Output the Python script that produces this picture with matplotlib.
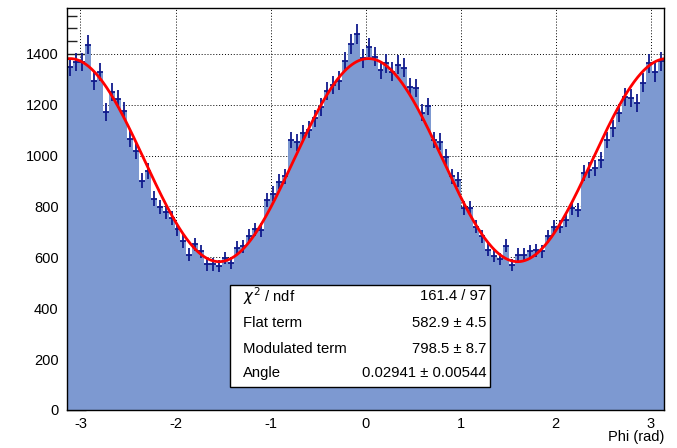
import numpy as np
import matplotlib
matplotlib.use("Agg")
import matplotlib.pyplot as plt
from matplotlib.patches import Rectangle
from matplotlib.ticker import MultipleLocator

plt.rcParams['font.family'] = ['Liberation Sans', 'DejaVu Sans']
plt.rcParams['axes.unicode_minus'] = False

# histogram: 100 bins over [-pi, pi], counts
n_bins = 100
counts = [1348, 1368, 1368, 1436, 1295, 1328, 1171, 1249, 1223, 1177,
          1065, 1019, 901, 940, 830, 797, 780, 756, 710, 664,
          611, 651, 624, 572, 572, 566, 598, 579, 638, 644,
          684, 710, 708, 825, 850, 898, 918, 1062, 1052, 1088,
          1101, 1147, 1190, 1252, 1278, 1295, 1370, 1439, 1479, 1383,
          1426, 1389, 1337, 1363, 1330, 1357, 1346, 1271, 1265, 1169,
          1193, 1062, 1055, 996, 918, 905, 794, 794, 721, 682,
          630, 606, 593, 646, 571, 610, 610, 623, 627, 623,
          682, 721, 721, 745, 794, 787, 931, 944, 951, 983,
          1062, 1108, 1167, 1232, 1226, 1206, 1287, 1363, 1327, 1370]

# fit results shown in the stats box
flat_term = 582.9
modulated_term = 798.5
angle = 0.02941
stat_labels = [r"$\chi^{2}$ / ndf", "Flat term", "Modulated term", "Angle"]
stat_values = ["161.4 / 97", "582.9 \u00b1 4.5", "798.5 \u00b1 8.7", "0.02941 \u00b1 0.00544"]

counts = np.array(counts, dtype=float)
edges = np.linspace(-np.pi, np.pi, n_bins + 1)
centers = 0.5 * (edges[:-1] + edges[1:])
width = edges[1] - edges[0]

fig = plt.figure(figsize=(6.77, 4.48), dpi=100)
ax = fig.add_axes([0.099, 0.085, 0.882, 0.897])

ax.stairs(counts, edges, fill=True, color="#7d99d1", zorder=2)
ax.errorbar(centers, counts, yerr=np.sqrt(counts), xerr=width / 2, fmt="none",
            ecolor="#101a8c", elinewidth=1.3, capsize=0, zorder=3)

phi = np.linspace(-np.pi, np.pi, 500)
ax.plot(phi, flat_term + modulated_term * np.cos(phi - angle) ** 2,
        color="red", lw=2.0, zorder=4)

ax.set_xlim(-np.pi, np.pi)
ax.set_ylim(0, 1580)
ax.xaxis.set_major_locator(MultipleLocator(1))
ax.xaxis.set_minor_locator(MultipleLocator(0.2))
ax.yaxis.set_major_locator(MultipleLocator(200))
ax.yaxis.set_minor_locator(MultipleLocator(50))
ax.tick_params(which="both", direction="in", top=False, right=False,
               labelsize=10.5, color="#222222", zorder=5)
ax.tick_params(which="major", length=14, width=1)
ax.tick_params(which="minor", length=7, width=1)
ax.tick_params(axis="x", pad=5)
ax.tick_params(axis="y", pad=6)
ax.set_axisbelow(True)
ax.grid(True, which="major", color="black", ls=(0, (1, 2)), lw=0.7, zorder=0)
for s in ax.spines.values():
    s.set_linewidth(1)
    s.set_zorder(6)

ax.text(1.0, -0.067, "Phi (rad)", transform=ax.transAxes, ha="right", va="center",
        fontsize=10.5)

# stats box
ax.add_patch(Rectangle((0.273, 0.057), 0.436, 0.254, transform=ax.transAxes,
                       facecolor="white", edgecolor="black", lw=1, zorder=7))
row_y = [0.284, 0.217, 0.152, 0.092]
for lab, val, y in zip(stat_labels, stat_values, row_y):
    ax.text(0.295, y, lab, transform=ax.transAxes, ha="left", va="center",
            fontsize=10.7, zorder=8)
    ax.text(0.702, y, val, transform=ax.transAxes, ha="right", va="center",
            fontsize=10.7, zorder=8)

fig.savefig("out.png", dpi=100)
